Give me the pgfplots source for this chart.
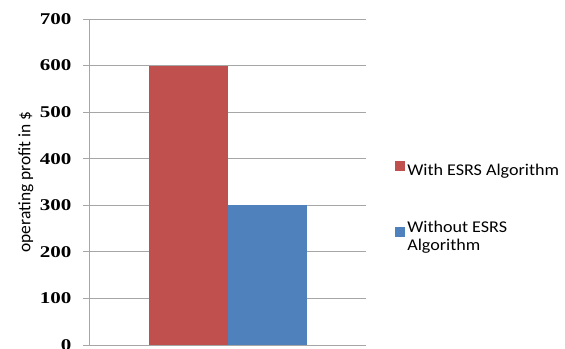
\documentclass[border=0pt]{standalone}
\usepackage{pgfplots}
\pgfplotsset{compat=1.18}
\usepackage{fontspec}
\setmainfont{Liberation Serif}
\newfontfamily\tickfont[FakeStretch=1.28]{Liberation Serif}
\newfontfamily\calib{Carlito}
\newfontfamily\legfont[FakeStretch=1.1]{Carlito}
\definecolor{offred}{HTML}{C0504D}
\definecolor{offblue}{HTML}{4F81BD}
\definecolor{gridgray}{HTML}{A6A6A6}
\begin{document}
\begin{tikzpicture}[x=1bp,y=1bp]
\useasboundingbox (0,0) rectangle (565,348);
\begin{axis}[
  at={(89bp,3bp)}, anchor=south west,
  scale only axis, width=277bp, height=326bp,
  ybar=0pt, bar width=79bp,
  xmin=0, xmax=2, ymin=0, ymax=700,
  ytick={0,100,...,700},
  xtick=\empty,
  axis x line=bottom, axis y line=left,
  axis line style={gridgray, line width=1pt, -},
  ymajorgrids, grid style={gridgray, line width=0.9pt},
  major tick length=6bp,
  y tick style={gridgray, line width=0.9pt},
  tick align=outside,
  yticklabel style={font=\tickfont\fontsize{16.5}{18}\selectfont\bfseries, xshift=-8bp},
  /pgf/number format/assume math mode=true,
  ylabel={operating profit in \$},
  ylabel style={font=\calib\fontsize{17.5}{20}\selectfont, at={(axis description cs:-0.228,0.5)}, anchor=center},
  clip=false,
  legend style={draw=none, at={(1.105,0.564)}, anchor=north west,
    font=\legfont\fontsize{16.5}{18.5}\selectfont, cells={anchor=west, align=left},
    row sep=40bp, inner sep=0pt},
  legend image code/.code={\fill[#1, draw=none] (0bp,-1bp) rectangle (10bp,9bp);},
]
\addplot[fill=offred, draw=none] coordinates {(1,600)};
\addplot[fill=offblue, draw=none] coordinates {(1,300)};
\legend{With ESRS Algorithm, Without ESRS\\Algorithm}
\end{axis}
\end{tikzpicture}
\end{document}
